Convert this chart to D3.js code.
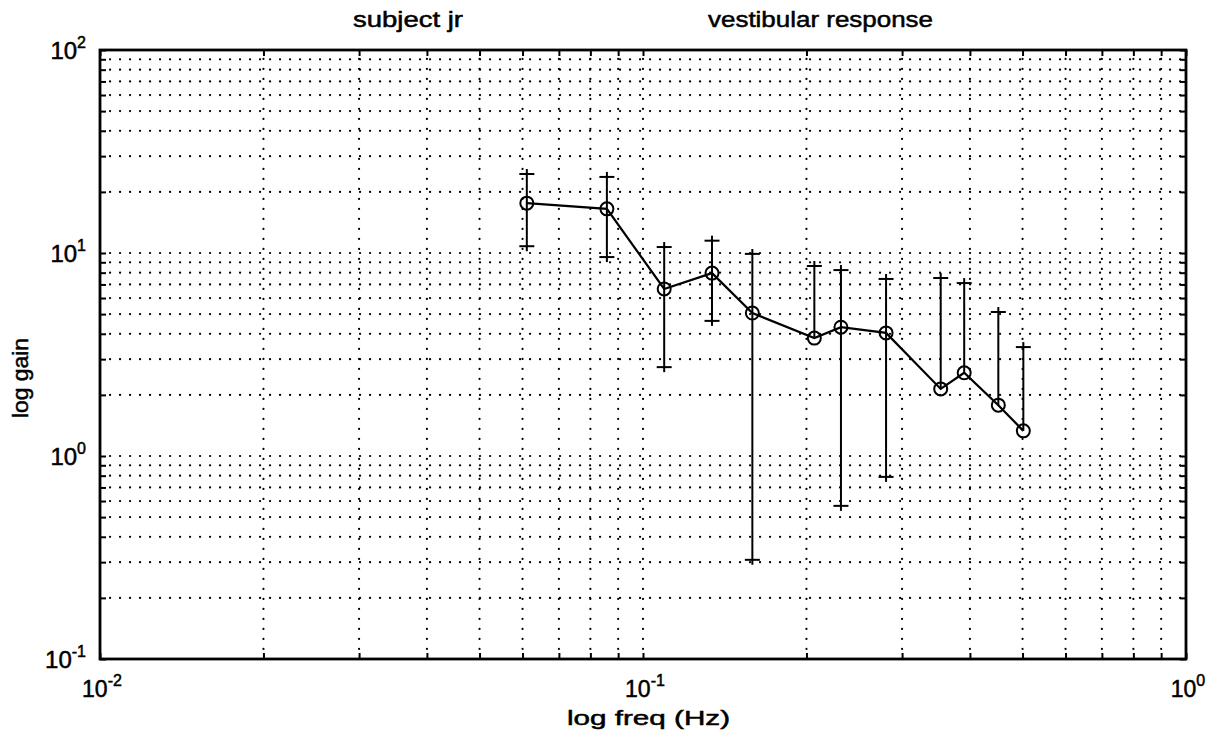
<!DOCTYPE html>
<html>
<head>
<meta charset="utf-8">
<script src="https://cdn.jsdelivr.net/npm/d3@7"></script>
<style>
  html, body { margin: 0; padding: 0; background: #fff; }
  svg { display: block; }
  text { font-family: "Liberation Sans", Arial, Helvetica, sans-serif; fill: #000; stroke: #000; stroke-width: 0.5px; }
</style>
</head>
<body>
<svg id="chart" width="1214" height="744"></svg>
<script>
// Vestibular response of subject jr: gain vs. stimulus frequency (log-log)
const freq      = [0.0611, 0.0858, 0.1094, 0.1340, 0.1590, 0.2068, 0.2315, 0.2803, 0.3534, 0.3904, 0.4512, 0.5017];
const gain      = [17.6, 16.5, 6.65, 7.96, 5.06, 3.81, 4.31, 4.04, 2.14, 2.57, 1.78, 1.33];
const gainUpper = [24.5, 23.7, 10.7, 11.5, 9.9, 8.63, 8.24, 7.45, 7.53, 7.11, 5.12, 3.44];
// null: lower limit falls below zero and cannot be shown on a log axis
const gainLower = [10.8, 9.55, 2.74, 4.63, 0.308, null, 0.568, 0.789, null, null, null, null];

const xDecades = [-2, -1, 0];
const yDecades = [-1, 0, 1, 2];
const titleLeft = "subject jr";
const titleRight = "vestibular response";
const xLabel = "log freq (Hz)";
const yLabel = "log gain";

const svg = d3.select("#chart");
const L = 100, R = 1186, T = 50, B = 659;

const x = d3.scaleLog().domain([0.01, 1]).range([L, R]);
const y = d3.scaleLog().domain([0.1, 100]).range([B, T]);

// all log ticks: majors and the 2..9 minors within each decade
const xTicks = x.ticks();
const yTicks = y.ticks();

const gridLine = sel => sel
  .attr("stroke", "#000").attr("stroke-width", 2.2)
  .attr("stroke-linecap", "round").attr("stroke-dasharray", "0.1 9.9");

const grid = svg.append("g");
grid.selectAll("line.vx").data(xTicks.filter(d => d > 0.01 && d < 1)).join("line")
  .attr("x1", d => x(d)).attr("x2", d => x(d))
  .attr("y1", B).attr("y2", T)
  .call(gridLine);
grid.selectAll("line.hy").data(yTicks.filter(d => d > 0.1 && d < 100)).join("line")
  .attr("x1", L).attr("x2", R)
  .attr("y1", d => y(d)).attr("y2", d => y(d))
  .call(gridLine);

// inward tick marks on all four sides
const tickLen = 6;
const axisStyle = g => g.call(g => g.select(".domain").remove())
  .call(g => g.selectAll(".tick line").attr("stroke", "#000").attr("stroke-width", 2))
  .call(g => g.selectAll(".tick text").remove());
svg.append("g").attr("transform", `translate(0,${B})`)
  .call(d3.axisTop(x).tickValues(xTicks).tickSize(tickLen)).call(axisStyle);
svg.append("g").attr("transform", `translate(0,${T})`)
  .call(d3.axisBottom(x).tickValues(xTicks).tickSize(tickLen)).call(axisStyle);
svg.append("g").attr("transform", `translate(${L},0)`)
  .call(d3.axisRight(y).tickValues(yTicks).tickSize(tickLen)).call(axisStyle);
svg.append("g").attr("transform", `translate(${R},0)`)
  .call(d3.axisLeft(y).tickValues(yTicks).tickSize(tickLen)).call(axisStyle);

// frame
svg.append("rect").attr("x", L).attr("y", T).attr("width", R - L).attr("height", B - T)
  .attr("fill", "none").attr("stroke", "#000").attr("stroke-width", 2.8);

// decade labels with superscript exponents
const xl = svg.append("g").selectAll("text").data(xDecades).join("text")
  .attr("x", d => x(Math.pow(10, d)) + 2).attr("y", 697)
  .attr("text-anchor", "middle").style("font-size", "23px");
xl.append("tspan").text("10");
xl.append("tspan").attr("dy", -11).style("font-size", "16px").text(d => String(d));

const yl = svg.append("g").selectAll("text").data(yDecades).join("text")
  .attr("x", 86).attr("y", d => y(Math.pow(10, d)) + 9)
  .attr("text-anchor", "end").style("font-size", "24px");
yl.append("tspan").text("10");
yl.append("tspan").attr("dy", -11).style("font-size", "16px").text(d => String(d));

// titles and axis labels
svg.append("text").attr("x", 353).attr("y", 27).style("font-size", "22px")
  .attr("textLength", 110).attr("lengthAdjust", "spacingAndGlyphs").text(titleLeft);
svg.append("text").attr("x", 708).attr("y", 27).style("font-size", "22px")
  .attr("textLength", 225).attr("lengthAdjust", "spacingAndGlyphs").text(titleRight);
svg.append("text").attr("x", 567).attr("y", 725).style("font-size", "21px")
  .attr("textLength", 163).attr("lengthAdjust", "spacingAndGlyphs").text(xLabel);
svg.append("text").attr("transform", "translate(28,418) rotate(-90)").style("font-size", "22px")
  .attr("textLength", 80).attr("lengthAdjust", "spacingAndGlyphs").text(yLabel);

// data
const pts = freq.map((f, i) => ({ f, g: gain[i], hi: gainUpper[i], lo: gainLower[i] }));
const cap = 7.5, overshoot = 5;
const eb = svg.append("g").attr("stroke", "#000").attr("stroke-width", 2).attr("fill", "none");
pts.forEach(p => {
  const cx = x(p.f);
  const yTop = y(p.hi);
  const yBot = p.lo != null ? y(p.lo) : y(p.g);
  eb.append("line").attr("x1", cx).attr("x2", cx)
    .attr("y1", yTop - overshoot).attr("y2", p.lo != null ? yBot + overshoot : yBot);
  eb.append("line").attr("x1", cx - cap).attr("x2", cx + cap).attr("y1", yTop).attr("y2", yTop);
  if (p.lo != null)
    eb.append("line").attr("x1", cx - cap).attr("x2", cx + cap).attr("y1", yBot).attr("y2", yBot);
});

svg.append("path").datum(pts)
  .attr("fill", "none").attr("stroke", "#000").attr("stroke-width", 2.2)
  .attr("d", d3.line().x(d => x(d.f)).y(d => y(d.g)));

svg.append("g").selectAll("circle").data(pts).join("circle")
  .attr("cx", d => x(d.f)).attr("cy", d => y(d.g)).attr("r", 6.5)
  .attr("fill", "none").attr("stroke", "#000").attr("stroke-width", 2);
</script>
</body>
</html>
